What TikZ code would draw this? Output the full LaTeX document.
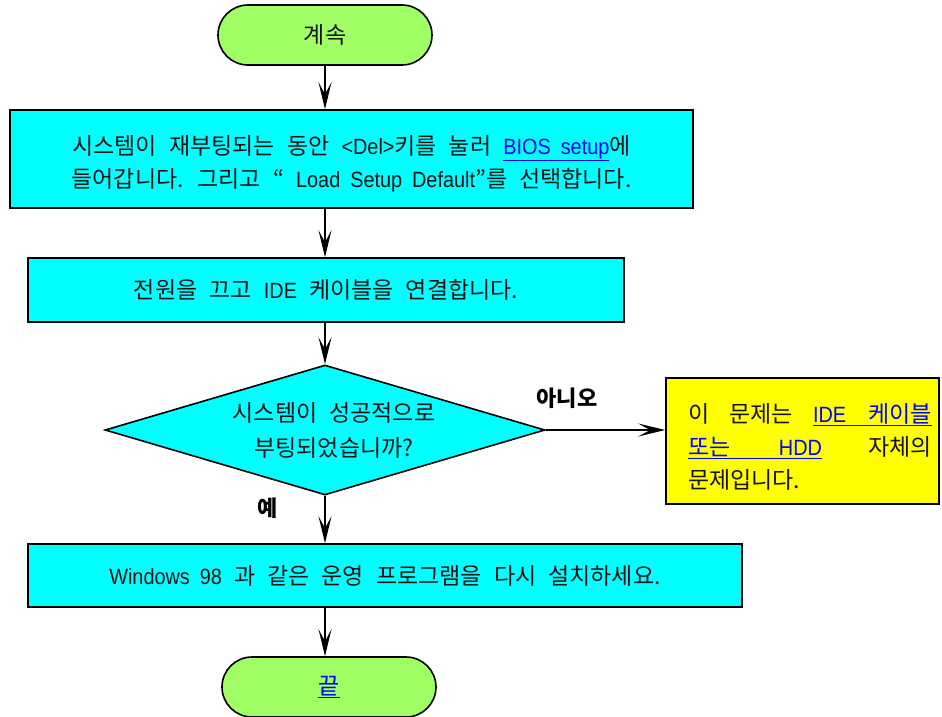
\documentclass[tikz,border=0pt]{standalone}
\usepackage{fontspec}
\setmainfont[WordSpace=2.35]{Noto Sans CJK KR}
\newfontfamily\latinfont[Scale=0.96,FakeStretch=0.9,WordSpace=1.8]{Liberation Sans}
\usetikzlibrary{
  arrows.meta,
  shapes.geometric
}
\definecolor{termgreen}{RGB}{160,255,100}
\definecolor{boxcyan}{RGB}{0,255,255}
\definecolor{noteyellow}{RGB}{255,255,0}
\definecolor{linkblue}{RGB}{0,0,255}
\definecolor{inkblack}{RGB}{20,20,20}
\newcommand{\weblink}[1]{{\color{linkblue}\underline{#1}}}
\newcommand{\en}[1]{{\latinfont #1}}
\tikzset{
  term/.style={draw=black,line width=1.6pt,fill=termgreen,
    rounded corners=30pt,minimum width=214pt,minimum height=60pt,
    inner sep=0pt,font=\fontsize{23}{33}\selectfont,text=inkblack},
  stepbox/.style={draw=black,line width=1.6pt,fill=boxcyan,
    align=center,inner sep=0pt,font=\fontsize{23}{33}\selectfont,text=inkblack},
  decide/.style={diamond,aspect=3.38,draw=black,line width=1.6pt,fill=boxcyan,
    minimum width=440pt,minimum height=130pt,inner sep=0pt,
    align=center,font=\fontsize{23}{35}\selectfont,text=inkblack},
  note/.style={draw=black,line width=1.6pt,fill=noteyellow,
    minimum width=273pt,minimum height=126pt,inner xsep=7pt,inner ysep=0pt,
    align=left,font=\fontsize{23}{33}\selectfont,text=inkblack},
  flow/.style={-{Stealth[length=27pt,width=13pt,inset=12pt]},line width=1.6pt,draw=black},
  lab/.style={font=\fontsize{22}{24}\selectfont\bfseries,inner sep=0pt}
}
\begin{document}
\begin{tikzpicture}[x=1pt,y=-1pt]
  \useasboundingbox (0,0) rectangle (942,717);
  \node[term] (start) at (325,35) {계속};
  \node[stepbox,minimum width=683pt,minimum height=98pt] (box1) at (351.5,159)
    {\rule{0pt}{28pt}시스템이 재부팅되는 동안 \en{<Del>}키를 눌러 \weblink{\en{BIOS setup}}에\\
     들어갑니다. 그리고 “ \en{Load Setup Default}”를 선택합니다.};
  \node[stepbox,minimum width=596pt,minimum height=64pt] (box2) at (326,290)
    {전원을 끄고 \en{IDE} 케이블을 연결합니다.};
  \node[decide] (check) at (325,430)
    {\hspace*{18pt}시스템이 성공적으로\\\hspace*{18pt}부팅되었습니까?};
  \node[note] (note) at (802.5,441)
    {\rule{0pt}{30pt}\hspace*{15pt}\makebox[244pt]{이\hfill 문제는\hfill \weblink{\makebox[119pt]{\en{IDE}\hfill 케이블}}}\\
     \hspace*{15pt}\makebox[244pt]{\weblink{\makebox[134pt]{또는\hfill \en{HDD}}}\hfill 자체의}\\
     \hspace*{15pt}\makebox[244pt][l]{문제입니다.}};
  \node[stepbox,minimum width=714pt,minimum height=63pt] (box3) at (385,575.5)
    {\en{Windows 98} 과 같은 운영 프로그램을 다시 설치하세요.};
  \node[term] (stop) at (329,687) {\weblink{끝}};
  \node[lab] (yeslab) at (268,508) {예};
  \node[lab] (nolab) at (567,398) {아니오};
  \coordinate (spine) at (325,0);
  \draw[flow] (start) -- (spine |- box1.north);
  \draw[flow] (spine |- box1.south) -- (spine |- box2.north);
  \draw[flow] (spine |- box2.south) -- (check.north);
  \draw[flow] (check.south) -- (spine |- box3.north);
  \draw[flow] (spine |- box3.south) -- (spine |- stop.north);
  \draw[flow] (check.east) -- (check.east -| note.west);
\end{tikzpicture}
\end{document}
